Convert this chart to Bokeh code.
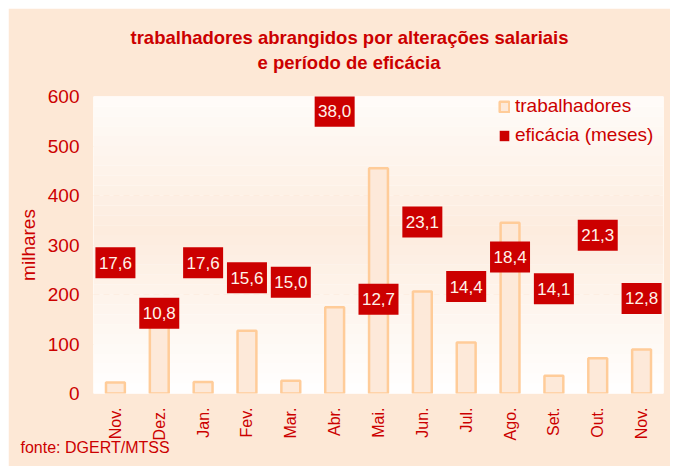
import math
from bokeh.plotting import figure
from bokeh.models import (Range1d, FixedTicker, Title, BoxAnnotation, Legend,
                          LegendItem, ColumnDataSource)
from bokeh.embed import file_html
from bokeh.resources import INLINE
from bokeh.core.properties import value

# ---- data ----
months = ["Nov.", "Dez.", "Jan.", "Fev.", "Mar.", "Abr.", "Mai.", "Jun.",
          "Jul.", "Ago.", "Set.", "Out.", "Nov."]
trabalhadores = [22, 135, 23, 127, 26, 174, 455, 206, 103, 345, 36, 71, 89]
eficacia = [17.6, 10.8, 17.6, 15.6, 15.0, 38.0, 12.7, 23.1, 14.4, 18.4, 14.1, 21.3, 12.8]
y_ticks = [0, 100, 200, 300, 400, 500, 600]

RED = "#CC0000"
PEACH = "#FDE8D6"
FONT = "Liberation Sans"

xs = list(range(len(months)))
src = ColumnDataSource(dict(
    x=xs, trab=trabalhadores, ef=eficacia,
    lab=[f"{v:.1f}".replace(".", ",") for v in eficacia],
))

W, H = 662, 458
p = figure(width=W, height=H, output_backend="svg", toolbar_location=None,
           x_range=Range1d(-0.5, len(months) - 0.5), y_range=Range1d(0, 600),
           min_border_left=85, min_border_right=7, min_border_top=88,
           min_border_bottom=73)
p.margin = (8, 0, 0, 8)
p.extra_y_ranges = {"ef": Range1d(0, 40)}
p.title = None
p.outline_line_color = None
p.border_fill_color = PEACH
p.background_fill_color = "white"

# soft vertical gradient in the plot area
def mix(t):
    c0 = (255, 255, 255)
    c1 = (0xFD, 0xEC, 0xDE)
    return "#%02x%02x%02x" % tuple(int(round(a + (b - a) * t)) for a, b in zip(c0, c1))

nb = 30
for i in range(nb):
    b0 = 600 * i / nb
    b1 = 600 * (i + 1) / nb
    mid = (b0 + b1) / 2 / 600
    f = max(0.0, 1 - abs(mid - 0.55) / 0.55)
    p.add_layout(BoxAnnotation(bottom=b0, top=b1, fill_color=mix(f), fill_alpha=1,
                               line_color=None, level="underlay"))

# grid
p.xgrid.grid_line_color = None
p.ygrid.ticker = FixedTicker(ticks=y_ticks)
p.ygrid.grid_line_color = "#FBDFC8"
p.ygrid.grid_line_dash = "6 4"
p.ygrid.grid_line_width = 1
p.ygrid.level = "underlay"

# bars
bars = p.vbar(x="x", top="trab", width=0.43, source=src,
              fill_color="#FDE9D9", line_color="#FFCC99", line_width=2.5)

# efficacy boxes + labels
rects = p.rect(x="x", y="ef", width=40, height=31, width_units="screen",
               height_units="screen", source=src, y_range_name="ef",
               fill_color=RED, line_color=None)
p.text(x="x", y="ef", text="lab", source=src, y_range_name="ef",
       text_align="center", text_baseline="middle", text_color="#FFF3EA",
       text_font=value(FONT), text_font_size="17px")

# axes
p.xaxis.ticker = FixedTicker(ticks=xs)
p.xaxis.major_label_overrides = {i: m for i, m in enumerate(months)}
p.xaxis.major_label_orientation = math.pi / 2
p.xaxis.major_label_text_color = RED
p.xaxis.major_label_text_font = FONT
p.xaxis.major_label_text_font_size = "16px"
p.xaxis.major_label_standoff = 14
p.yaxis.ticker = FixedTicker(ticks=y_ticks)
p.yaxis.major_label_text_color = RED
p.yaxis.major_label_text_font = FONT
p.yaxis.major_label_text_font_size = "19px"
p.yaxis.major_label_standoff = 14
p.yaxis.axis_label = "milhares"
p.yaxis.axis_label_text_color = RED
p.yaxis.axis_label_text_font = FONT
p.yaxis.axis_label_text_font_size = "19px"
p.yaxis.axis_label_text_font_style = "normal"
p.yaxis.axis_label_standoff = 6
for ax in (p.xaxis, p.yaxis):
    ax.axis_line_color = None
    ax.major_tick_line_color = None
    ax.minor_tick_line_color = None
    ax.major_tick_out = 0
    ax.major_tick_in = 0

# legend
legend = Legend(items=[LegendItem(label="trabalhadores", renderers=[bars]),
                       LegendItem(label="eficácia (meses)", renderers=[rects])],
                location=(405, 247), orientation="vertical",
                background_fill_alpha=0, border_line_color=None,
                padding=0, margin=0, spacing=7, glyph_width=12, glyph_height=13,
                label_height=20, label_standoff=5,
                label_text_color=RED, label_text_font=FONT,
                label_text_font_size="19px")
p.add_layout(legend, "center")

# title (two lines) and source note
t2 = Title(text="e período de eficácia", align="left", offset=164, standoff=48,
           text_color=RED, text_font=FONT, text_font_style="bold",
           text_font_size="18.5px")
t1 = Title(text="trabalhadores abrangidos por alterações salariais", align="left",
           offset=37, standoff=-44, text_color=RED, text_font=FONT,
           text_font_style="bold", text_font_size="18.5px")
p.add_layout(t2, "above")
p.add_layout(t1, "above")
src_note = Title(text="fonte: DGERT/MTSS", align="left", offset=-73, standoff=-13,
                 text_color=RED, text_font=FONT, text_font_style="normal",
                 text_font_size="16px")
p.add_layout(src_note, "below")

open("out.html", "w").write(file_html(p, INLINE))
